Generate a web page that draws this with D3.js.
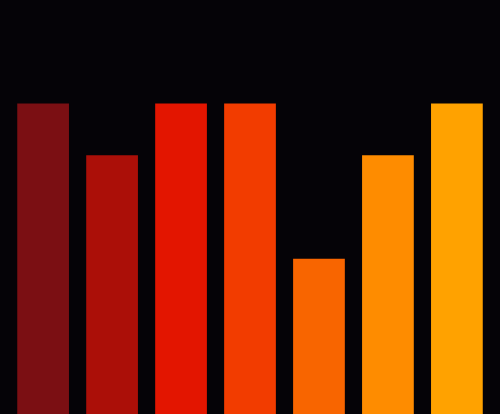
<!DOCTYPE html>
<html><head><meta charset="utf-8">
<script src="https://cdn.jsdelivr.net/npm/d3@7"></script>
<style>html,body{margin:0;padding:0;background:#050307;overflow:hidden}</style>
</head><body>
<svg id="c" width="500" height="414"></svg>
<script>
const categories = ["A","B","C","D","E","F","G"];
const values = [6,5,6,6,3,5,6];
const colors = ["#7b0f13","#ab0f08","#e31500","#f23c00","#f86500","#fe8c00","#ffa200"];
const W=500,H=414;
const svg=d3.select("#c");
svg.append("rect").attr("width",W).attr("height",H).attr("fill","#050307");
const x=d3.scaleBand().domain(categories).range([0,W]).padding(0.25);
const y=d3.scaleLinear().domain([0,8]).range([H,0]);
svg.selectAll(".bar").data(values).enter().append("rect")
 .attr("x",(d,i)=>x(categories[i])).attr("width",x.bandwidth())
 .attr("y",d=>y(d)).attr("height",d=>H-y(d))
 .attr("fill",(d,i)=>colors[i]);
</script>
</body></html>
